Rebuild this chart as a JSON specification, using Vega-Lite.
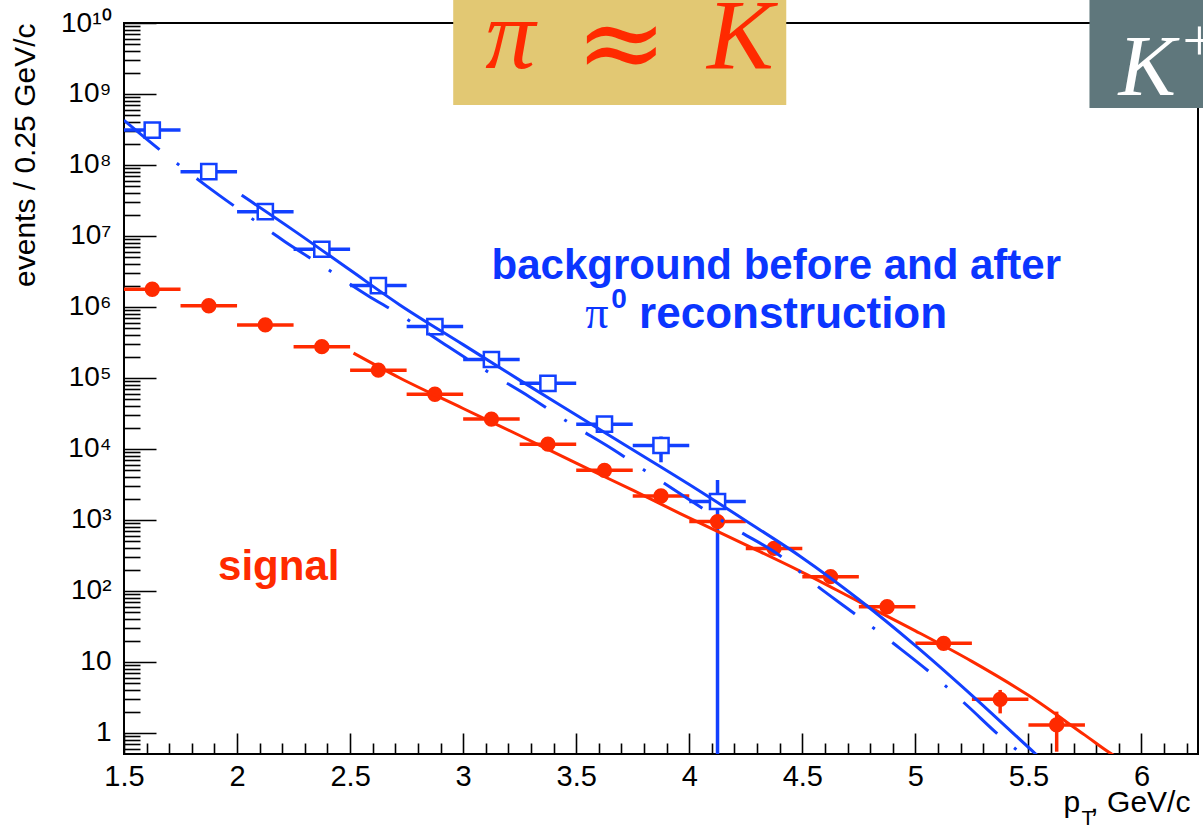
{
  "$schema": "https://vega.github.io/schema/vega-lite/v6.json",
  "width": 1074,
  "height": 731,
  "autosize": {"type": "none"},
  "padding": {"left": 124, "top": 23, "right": 5, "bottom": 77},
  "background": "white",
  "config": {
    "view": {"stroke": "black", "strokeWidth": 2},
    "font": "Liberation Sans"
  },
  "datasets": {
    "points": [
      {"series": "background", "pt": 1.625, "pt_lo": 1.5, "pt_hi": 1.75, "val": 3.1e8, "lo": 3.1e8, "hi": 3.1e8},
      {"series": "background", "pt": 1.875, "pt_lo": 1.75, "pt_hi": 2.0, "val": 8.05e7, "lo": 8.05e7, "hi": 8.05e7},
      {"series": "background", "pt": 2.125, "pt_lo": 2.0, "pt_hi": 2.25, "val": 2.2e7, "lo": 2.2e7, "hi": 2.2e7},
      {"series": "background", "pt": 2.375, "pt_lo": 2.25, "pt_hi": 2.5, "val": 6.5e6, "lo": 6.5e6, "hi": 6.5e6},
      {"series": "background", "pt": 2.625, "pt_lo": 2.5, "pt_hi": 2.75, "val": 2.0e6, "lo": 2.0e6, "hi": 2.0e6},
      {"series": "background", "pt": 2.875, "pt_lo": 2.75, "pt_hi": 3.0, "val": 5.3e5, "lo": 5.3e5, "hi": 5.3e5},
      {"series": "background", "pt": 3.125, "pt_lo": 3.0, "pt_hi": 3.25, "val": 1.82e5, "lo": 1.82e5, "hi": 1.82e5},
      {"series": "background", "pt": 3.375, "pt_lo": 3.25, "pt_hi": 3.5, "val": 8.4e4, "lo": 8.4e4, "hi": 8.4e4},
      {"series": "background", "pt": 3.625, "pt_lo": 3.5, "pt_hi": 3.75, "val": 2.24e4, "lo": 2.0e4, "hi": 2.5e4},
      {"series": "background", "pt": 3.875, "pt_lo": 3.75, "pt_hi": 4.0, "val": 1.12e4, "lo": 6.5e3, "hi": 1.5e4},
      {"series": "background", "pt": 4.125, "pt_lo": 4.0, "pt_hi": 4.25, "val": 1.82e3, "lo": 0.001, "hi": 3.65e3},
      {"series": "signal", "pt": 1.625, "pt_lo": 1.5, "pt_hi": 1.75, "val": 1.78e6, "lo": 1.78e6, "hi": 1.78e6},
      {"series": "signal", "pt": 1.875, "pt_lo": 1.75, "pt_hi": 2.0, "val": 1.04e6, "lo": 1.04e6, "hi": 1.04e6},
      {"series": "signal", "pt": 2.125, "pt_lo": 2.0, "pt_hi": 2.25, "val": 5.6e5, "lo": 5.6e5, "hi": 5.6e5},
      {"series": "signal", "pt": 2.375, "pt_lo": 2.25, "pt_hi": 2.5, "val": 2.76e5, "lo": 2.76e5, "hi": 2.76e5},
      {"series": "signal", "pt": 2.625, "pt_lo": 2.5, "pt_hi": 2.75, "val": 1.29e5, "lo": 1.29e5, "hi": 1.29e5},
      {"series": "signal", "pt": 2.875, "pt_lo": 2.75, "pt_hi": 3.0, "val": 5.9e4, "lo": 5.9e4, "hi": 5.9e4},
      {"series": "signal", "pt": 3.125, "pt_lo": 3.0, "pt_hi": 3.25, "val": 2.64e4, "lo": 2.64e4, "hi": 2.64e4},
      {"series": "signal", "pt": 3.375, "pt_lo": 3.25, "pt_hi": 3.5, "val": 1.17e4, "lo": 1.17e4, "hi": 1.17e4},
      {"series": "signal", "pt": 3.625, "pt_lo": 3.5, "pt_hi": 3.75, "val": 5.0e3, "lo": 5.0e3, "hi": 5.0e3},
      {"series": "signal", "pt": 3.875, "pt_lo": 3.75, "pt_hi": 4.0, "val": 2.18e3, "lo": 2.18e3, "hi": 2.18e3},
      {"series": "signal", "pt": 4.125, "pt_lo": 4.0, "pt_hi": 4.25, "val": 950, "lo": 950, "hi": 950},
      {"series": "signal", "pt": 4.375, "pt_lo": 4.25, "pt_hi": 4.5, "val": 398, "lo": 398, "hi": 398},
      {"series": "signal", "pt": 4.625, "pt_lo": 4.5, "pt_hi": 4.75, "val": 159, "lo": 159, "hi": 159},
      {"series": "signal", "pt": 4.875, "pt_lo": 4.75, "pt_hi": 5.0, "val": 60, "lo": 55, "hi": 66},
      {"series": "signal", "pt": 5.125, "pt_lo": 5.0, "pt_hi": 5.25, "val": 18.3, "lo": 15.5, "hi": 21.5},
      {"series": "signal", "pt": 5.375, "pt_lo": 5.25, "pt_hi": 5.5, "val": 2.98, "lo": 1.89, "hi": 4.04},
      {"series": "signal", "pt": 5.625, "pt_lo": 5.5, "pt_hi": 5.75, "val": 1.3, "lo": 0.545, "hi": 2.0}
    ],
    "curves": [
      {"curve": "signal_fit", "pt": 2.515, "val": 2.24e5},
      {"curve": "signal_fit", "pt": 2.72, "val": 1.0e5},
      {"curve": "signal_fit", "pt": 3.0, "val": 3.72e4},
      {"curve": "signal_fit", "pt": 3.25, "val": 1.55e4},
      {"curve": "signal_fit", "pt": 3.5, "val": 6.31e3},
      {"curve": "signal_fit", "pt": 3.75, "val": 2.63e3},
      {"curve": "signal_fit", "pt": 3.96, "val": 1.23e3},
      {"curve": "signal_fit", "pt": 4.25, "val": 447},
      {"curve": "signal_fit", "pt": 4.49, "val": 191},
      {"curve": "signal_fit", "pt": 4.75, "val": 70.8},
      {"curve": "signal_fit", "pt": 5.0, "val": 27.5},
      {"curve": "signal_fit", "pt": 5.25, "val": 10.2},
      {"curve": "signal_fit", "pt": 5.5, "val": 3.39},
      {"curve": "signal_fit", "pt": 5.75, "val": 0.933},
      {"curve": "signal_fit", "pt": 5.87, "val": 0.501},
      {"curve": "signal_fit", "pt": 5.9, "val": 0.44},
      {"curve": "bg_solid", "pt": 2.02, "val": 3.76e7},
      {"curve": "bg_solid", "pt": 2.25, "val": 1.2e7},
      {"curve": "bg_solid", "pt": 2.5, "val": 3.31e6},
      {"curve": "bg_solid", "pt": 2.72, "val": 1.07e6},
      {"curve": "bg_solid", "pt": 3.0, "val": 2.95e5},
      {"curve": "bg_solid", "pt": 3.25, "val": 9.33e4},
      {"curve": "bg_solid", "pt": 3.5, "val": 3.02e4},
      {"curve": "bg_solid", "pt": 3.75, "val": 9.77e3},
      {"curve": "bg_solid", "pt": 4.0, "val": 3.16e3},
      {"curve": "bg_solid", "pt": 4.25, "val": 977},
      {"curve": "bg_solid", "pt": 4.49, "val": 309},
      {"curve": "bg_solid", "pt": 4.75, "val": 75.9},
      {"curve": "bg_solid", "pt": 5.0, "val": 17.0},
      {"curve": "bg_solid", "pt": 5.25, "val": 3.39},
      {"curve": "bg_solid", "pt": 5.53, "val": 0.513},
      {"curve": "bg_solid", "pt": 5.56, "val": 0.42},
      {"curve": "bg_dashdot", "pt": 1.5, "val": 4.27e8},
      {"curve": "bg_dashdot", "pt": 1.684, "val": 1.41e8},
      {"curve": "bg_dashdot", "pt": 1.863, "val": 5.13e7},
      {"curve": "bg_dashdot", "pt": 2.028, "val": 2.14e7},
      {"curve": "bg_dashdot", "pt": 2.212, "val": 8.32e6},
      {"curve": "bg_dashdot", "pt": 2.382, "val": 3.72e6},
      {"curve": "bg_dashdot", "pt": 2.574, "val": 1.48e6},
      {"curve": "bg_dashdot", "pt": 2.721, "val": 7.76e5},
      {"curve": "bg_dashdot", "pt": 2.935, "val": 2.75e5},
      {"curve": "bg_dashdot", "pt": 3.108, "val": 1.23e5},
      {"curve": "bg_dashdot", "pt": 3.296, "val": 5.37e4},
      {"curve": "bg_dashdot", "pt": 3.473, "val": 2.29e4},
      {"curve": "bg_dashdot", "pt": 3.665, "val": 9.77e3},
      {"curve": "bg_dashdot", "pt": 3.835, "val": 4.27e3},
      {"curve": "bg_dashdot", "pt": 4.211, "val": 724},
      {"curve": "bg_dashdot", "pt": 4.395, "val": 324},
      {"curve": "bg_dashdot", "pt": 4.562, "val": 120},
      {"curve": "bg_dashdot", "pt": 4.727, "val": 49},
      {"curve": "bg_dashdot", "pt": 4.904, "val": 18.2},
      {"curve": "bg_dashdot", "pt": 5.066, "val": 7.08},
      {"curve": "bg_dashdot", "pt": 5.231, "val": 2.4},
      {"curve": "bg_dashdot", "pt": 5.384, "val": 0.851},
      {"curve": "bg_dashdot", "pt": 5.465, "val": 0.525},
      {"curve": "bg_dashdot", "pt": 5.5, "val": 0.43}
    ],
    "boxes": [
      {"box": "ratio", "x1": 2.956, "x2": 4.429, "y1": 7.0e8, "y2": 3e10},
      {"box": "kaon", "x1": 5.77, "x2": 6.4, "y1": 6.35e8, "y2": 3e10}
    ],
    "notes": [
      {"key": "bg1", "txt": "background before and after", "pt": 4.385, "v": 2.48e6},
      {"key": "bg2pi", "txt": "π", "pt": 3.54, "v": 5.06e5},
      {"key": "bg2sup", "txt": "0", "pt": 3.655, "v": 9.68e5},
      {"key": "bg2", "txt": "reconstruction", "pt": 3.778, "v": 5.06e5},
      {"key": "sig", "txt": "signal", "pt": 1.916, "v": 143},
      {"key": "ratio", "txt": "π", "pt": 3.208, "v": 2.32e9},
      {"key": "approx", "txt": "≈", "pt": 3.699, "v": 1.57e9},
      {"key": "ratio", "txt": "K", "pt": 4.226, "v": 2.32e9},
      {"key": "kaonK", "txt": "K", "pt": 5.898, "v": 9.68e8},
      {"key": "kaonPlus", "txt": "+", "pt": 6.181, "v": 3.0e9},
      {"key": "xt", "txt": "p", "pt": 5.655, "v": 0.077},
      {"key": "xtsub", "txt": "T", "pt": 5.735, "v": 0.0506},
      {"key": "xt", "txt": ", GeV/c", "pt": 5.774, "v": 0.077}
    ]
  },
  "resolve": {"axis": {"x": "independent", "y": "independent"}},
  "layer": [
    {
      "data": {"name": "points"},
      "mark": {"type": "rule", "strokeWidth": 3.5, "clip": true},
      "encoding": {
        "x": {"field": "pt_lo", "type": "quantitative", "scale": {"type": "linear", "domain": [1.5, 6.25], "nice": false, "zero": false}, "axis": null},
        "x2": {"field": "pt_hi"},
        "y": {"field": "val", "type": "quantitative", "scale": {"type": "log", "domain": [0.506, 1e10], "nice": false}, "axis": null},
        "color": {"field": "series", "type": "nominal", "scale": {"domain": ["background", "signal"], "range": ["#1240ff", "#ff2a00"]}, "legend": null}
      }
    },
    {
      "data": {"name": "points"},
      "mark": {"type": "rule", "strokeWidth": 3.5, "clip": true},
      "encoding": {
        "x": {"field": "pt", "type": "quantitative", "scale": {"type": "linear", "domain": [1.5, 6.25], "nice": false, "zero": false}, "axis": null},
        "y": {"field": "lo", "type": "quantitative", "scale": {"type": "log", "domain": [0.506, 1e10], "nice": false}, "axis": null},
        "y2": {"field": "hi"},
        "color": {"field": "series", "type": "nominal", "scale": {"domain": ["background", "signal"], "range": ["#1240ff", "#ff2a00"]}, "legend": null}
      }
    },
    {
      "data": {"name": "points"},
      "transform": [{"filter": "datum.series === 'background'"}],
      "mark": {"type": "point", "shape": "square", "size": 230, "filled": false, "fill": "white", "fillOpacity": 1, "stroke": "#1240ff", "strokeWidth": 2.5, "opacity": 1},
      "encoding": {
        "x": {"field": "pt", "type": "quantitative", "scale": {"type": "linear", "domain": [1.5, 6.25], "nice": false, "zero": false}, "axis": null},
        "y": {"field": "val", "type": "quantitative", "scale": {"type": "log", "domain": [0.506, 1e10], "nice": false}, "axis": null}
      }
    },
    {
      "data": {"name": "points"},
      "transform": [{"filter": "datum.series === 'signal'"}],
      "mark": {"type": "circle", "size": 235, "color": "#ff2a00", "opacity": 1},
      "encoding": {
        "x": {"field": "pt", "type": "quantitative", "scale": {"type": "linear", "domain": [1.5, 6.25], "nice": false, "zero": false}, "axis": null},
        "y": {"field": "val", "type": "quantitative", "scale": {"type": "log", "domain": [0.506, 1e10], "nice": false}, "axis": null}
      }
    },
    {
      "data": {"name": "curves"},
      "transform": [{"filter": "datum.curve === 'signal_fit'"}],
      "mark": {"type": "line", "color": "#ff2a00", "strokeWidth": 3, "interpolate": "monotone", "clip": true},
      "encoding": {
        "x": {
          "field": "pt", "type": "quantitative",
          "scale": {"type": "linear", "domain": [1.5, 6.25], "nice": false, "zero": false},
          "axis": {
            "orient": "bottom", "values": [1.5, 2, 2.5, 3, 3.5, 4, 4.5, 5, 5.5, 6], "format": "~g",
            "domain": false, "grid": false, "tickSize": -21, "tickWidth": 1.6, "tickColor": "black",
            "labelFont": "Liberation Sans", "labelFontSize": 29, "labelColor": "black", "labelPadding": 29,
            "labelFlush": false, "labelOverlap": false, "title": null
          }
        },
        "y": {
          "field": "val", "type": "quantitative",
          "scale": {"type": "log", "domain": [0.506, 1e10], "nice": false},
          "axis": {
            "orient": "left", "values": [1, 10, 100, 1000, 10000, 100000, 1000000, 10000000, 100000000, 1000000000, 10000000000],
            "domain": false, "grid": false, "tickSize": -32, "tickWidth": 1.6, "tickColor": "black",
            "labelFont": "Liberation Sans", "labelFontSize": 28, "labelColor": "black", "labelPadding": 45, "labelOverlap": false,
            "labelExpr": "datum.value < 5 ? '1' : datum.value < 50 ? '10' : '10' + (datum.value > 5e9 ? '¹⁰' : substring('⁰¹²³⁴⁵⁶⁷⁸⁹', round(log(datum.value) / LN10), round(log(datum.value) / LN10) + 1))",
            "title": "events / 0.25 GeV/c", "titleFont": "Liberation Sans", "titleFontSize": 30, "titleFontWeight": "normal",
            "titleColor": "black", "titleAnchor": "end", "titlePadding": 20
          }
        }
      }
    },
    {
      "data": {"name": "curves"},
      "transform": [{"filter": "datum.curve === 'bg_solid'"}],
      "mark": {"type": "line", "color": "#1240ff", "strokeWidth": 3, "interpolate": "monotone", "clip": true},
      "encoding": {
        "x": {
          "field": "pt", "type": "quantitative",
          "scale": {"type": "linear", "domain": [1.5, 6.25], "nice": false, "zero": false},
          "axis": {
            "orient": "bottom",
            "values": [1.6, 1.7, 1.8, 1.9, 2.1, 2.2, 2.3, 2.4, 2.6, 2.7, 2.8, 2.9, 3.1, 3.2, 3.3, 3.4, 3.6, 3.7, 3.8, 3.9, 4.1, 4.2, 4.3, 4.4, 4.6, 4.7, 4.8, 4.9, 5.1, 5.2, 5.3, 5.4, 5.6, 5.7, 5.8, 5.9, 6.1, 6.2],
            "domain": false, "grid": false, "labels": false, "tickSize": -11, "tickWidth": 1.6, "tickColor": "black", "title": null
          }
        },
        "y": {
          "field": "val", "type": "quantitative",
          "scale": {"type": "log", "domain": [0.506, 1e10], "nice": false},
          "axis": {
            "orient": "left",
            "values": [0.6, 0.7, 0.8, 0.9, 2, 3, 4, 5, 6, 7, 8, 9, 20, 30, 40, 50, 60, 70, 80, 90, 200, 300, 400, 500, 600, 700, 800, 900, 2000, 3000, 4000, 5000, 6000, 7000, 8000, 9000, 20000, 30000, 40000, 50000, 60000, 70000, 80000, 90000, 200000, 300000, 400000, 500000, 600000, 700000, 800000, 900000, 2000000, 3000000, 4000000, 5000000, 6000000, 7000000, 8000000, 9000000, 20000000, 30000000, 40000000, 50000000, 60000000, 70000000, 80000000, 90000000, 200000000, 300000000, 400000000, 500000000, 600000000, 700000000, 800000000, 900000000, 2000000000, 3000000000, 4000000000, 5000000000, 6000000000, 7000000000, 8000000000, 9000000000],
            "domain": false, "grid": false, "labels": false, "tickSize": -16, "tickWidth": 1.6, "tickColor": "black", "title": null
          }
        }
      }
    },
    {
      "data": {"name": "curves"},
      "transform": [{"filter": "datum.curve === 'bg_dashdot'"}],
      "mark": {"type": "line", "color": "#1240ff", "strokeWidth": 3, "strokeDash": [46, 22, 3, 22], "interpolate": "monotone", "clip": true},
      "encoding": {
        "x": {"field": "pt", "type": "quantitative", "scale": {"type": "linear", "domain": [1.5, 6.25], "nice": false, "zero": false}, "axis": null},
        "y": {"field": "val", "type": "quantitative", "scale": {"type": "log", "domain": [0.506, 1e10], "nice": false}, "axis": null}
      }
    },
    {
      "data": {"name": "boxes"},
      "transform": [{"filter": "datum.box === 'ratio'"}],
      "mark": {"type": "rect", "color": "#e2c873", "opacity": 1},
      "encoding": {
        "x": {"field": "x1", "type": "quantitative", "scale": {"type": "linear", "domain": [1.5, 6.25], "nice": false, "zero": false}, "axis": null},
        "x2": {"field": "x2"},
        "y": {"field": "y1", "type": "quantitative", "scale": {"type": "log", "domain": [0.506, 1e10], "nice": false}, "axis": null},
        "y2": {"field": "y2"}
      }
    },
    {
      "data": {"name": "boxes"},
      "transform": [{"filter": "datum.box === 'kaon'"}],
      "mark": {"type": "rect", "color": "#5f777c", "opacity": 1},
      "encoding": {
        "x": {"field": "x1", "type": "quantitative", "scale": {"type": "linear", "domain": [1.5, 6.25], "nice": false, "zero": false}, "axis": null},
        "x2": {"field": "x2"},
        "y": {"field": "y1", "type": "quantitative", "scale": {"type": "log", "domain": [0.506, 1e10], "nice": false}, "axis": null},
        "y2": {"field": "y2"}
      }
    },
    {
      "data": {"name": "notes"},
      "transform": [{"filter": "datum.key === 'bg1'"}],
      "mark": {"type": "text", "font": "Liberation Sans", "fontWeight": "bold", "fontSize": 42, "color": "#0b35ff", "align": "center", "baseline": "alphabetic"},
      "encoding": {
        "x": {"field": "pt", "type": "quantitative", "scale": {"type": "linear", "domain": [1.5, 6.25], "nice": false, "zero": false}, "axis": null},
        "y": {"field": "v", "type": "quantitative", "scale": {"type": "log", "domain": [0.506, 1e10], "nice": false}, "axis": null},
        "text": {"field": "txt"}
      }
    },
    {
      "data": {"name": "notes"},
      "transform": [{"filter": "datum.key === 'bg2'"}],
      "mark": {"type": "text", "font": "Liberation Sans", "fontWeight": "bold", "fontSize": 44, "color": "#0b35ff", "align": "left", "baseline": "alphabetic"},
      "encoding": {
        "x": {"field": "pt", "type": "quantitative", "scale": {"type": "linear", "domain": [1.5, 6.25], "nice": false, "zero": false}, "axis": null},
        "y": {"field": "v", "type": "quantitative", "scale": {"type": "log", "domain": [0.506, 1e10], "nice": false}, "axis": null},
        "text": {"field": "txt"}
      }
    },
    {
      "data": {"name": "notes"},
      "transform": [{"filter": "datum.key === 'bg2pi'"}],
      "mark": {"type": "text", "font": "Liberation Serif", "fontSize": 46, "color": "#0b35ff", "align": "left", "baseline": "alphabetic"},
      "encoding": {
        "x": {"field": "pt", "type": "quantitative", "scale": {"type": "linear", "domain": [1.5, 6.25], "nice": false, "zero": false}, "axis": null},
        "y": {"field": "v", "type": "quantitative", "scale": {"type": "log", "domain": [0.506, 1e10], "nice": false}, "axis": null},
        "text": {"field": "txt"}
      }
    },
    {
      "data": {"name": "notes"},
      "transform": [{"filter": "datum.key === 'bg2sup'"}],
      "mark": {"type": "text", "font": "Liberation Sans", "fontWeight": "bold", "fontSize": 28, "color": "#0b35ff", "align": "left", "baseline": "alphabetic"},
      "encoding": {
        "x": {"field": "pt", "type": "quantitative", "scale": {"type": "linear", "domain": [1.5, 6.25], "nice": false, "zero": false}, "axis": null},
        "y": {"field": "v", "type": "quantitative", "scale": {"type": "log", "domain": [0.506, 1e10], "nice": false}, "axis": null},
        "text": {"field": "txt"}
      }
    },
    {
      "data": {"name": "notes"},
      "transform": [{"filter": "datum.key === 'sig'"}],
      "mark": {"type": "text", "font": "Liberation Sans", "fontWeight": "bold", "fontSize": 42, "color": "#ff2a00", "align": "left", "baseline": "alphabetic"},
      "encoding": {
        "x": {"field": "pt", "type": "quantitative", "scale": {"type": "linear", "domain": [1.5, 6.25], "nice": false, "zero": false}, "axis": null},
        "y": {"field": "v", "type": "quantitative", "scale": {"type": "log", "domain": [0.506, 1e10], "nice": false}, "axis": null},
        "text": {"field": "txt"}
      }
    },
    {
      "data": {"name": "notes"},
      "transform": [{"filter": "datum.key === 'ratio'"}],
      "mark": {"type": "text", "font": "Liberation Serif", "fontStyle": "italic", "fontSize": 100, "color": "#ff2a00", "align": "center", "baseline": "alphabetic"},
      "encoding": {
        "x": {"field": "pt", "type": "quantitative", "scale": {"type": "linear", "domain": [1.5, 6.25], "nice": false, "zero": false}, "axis": null},
        "y": {"field": "v", "type": "quantitative", "scale": {"type": "log", "domain": [0.506, 1e10], "nice": false}, "axis": null},
        "text": {"field": "txt"}
      }
    },
    {
      "data": {"name": "notes"},
      "transform": [{"filter": "datum.key === 'approx'"}],
      "mark": {"type": "text", "font": "DejaVu Serif", "fontStyle": "italic", "fontSize": 110, "color": "#ff2a00", "align": "center", "baseline": "alphabetic"},
      "encoding": {
        "x": {"field": "pt", "type": "quantitative", "scale": {"type": "linear", "domain": [1.5, 6.25], "nice": false, "zero": false}, "axis": null},
        "y": {"field": "v", "type": "quantitative", "scale": {"type": "log", "domain": [0.506, 1e10], "nice": false}, "axis": null},
        "text": {"field": "txt"}
      }
    },
    {
      "data": {"name": "notes"},
      "transform": [{"filter": "datum.key === 'kaonK'"}],
      "mark": {"type": "text", "font": "Liberation Serif", "fontStyle": "italic", "fontSize": 86, "color": "white", "align": "left", "baseline": "alphabetic"},
      "encoding": {
        "x": {"field": "pt", "type": "quantitative", "scale": {"type": "linear", "domain": [1.5, 6.25], "nice": false, "zero": false}, "axis": null},
        "y": {"field": "v", "type": "quantitative", "scale": {"type": "log", "domain": [0.506, 1e10], "nice": false}, "axis": null},
        "text": {"field": "txt"}
      }
    },
    {
      "data": {"name": "notes"},
      "transform": [{"filter": "datum.key === 'kaonPlus'"}],
      "mark": {"type": "text", "font": "Liberation Serif", "fontSize": 60, "color": "white", "align": "left", "baseline": "alphabetic"},
      "encoding": {
        "x": {"field": "pt", "type": "quantitative", "scale": {"type": "linear", "domain": [1.5, 6.25], "nice": false, "zero": false}, "axis": null},
        "y": {"field": "v", "type": "quantitative", "scale": {"type": "log", "domain": [0.506, 1e10], "nice": false}, "axis": null},
        "text": {"field": "txt"}
      }
    },
    {
      "data": {"name": "notes"},
      "transform": [{"filter": "datum.key === 'xt'"}],
      "mark": {"type": "text", "font": "Liberation Sans", "fontSize": 30, "color": "black", "align": "left", "baseline": "alphabetic"},
      "encoding": {
        "x": {"field": "pt", "type": "quantitative", "scale": {"type": "linear", "domain": [1.5, 6.25], "nice": false, "zero": false}, "axis": null},
        "y": {"field": "v", "type": "quantitative", "scale": {"type": "log", "domain": [0.506, 1e10], "nice": false}, "axis": null},
        "text": {"field": "txt"}
      }
    },
    {
      "data": {"name": "notes"},
      "transform": [{"filter": "datum.key === 'xtsub'"}],
      "mark": {"type": "text", "font": "Liberation Sans", "fontSize": 21, "color": "black", "align": "left", "baseline": "alphabetic"},
      "encoding": {
        "x": {"field": "pt", "type": "quantitative", "scale": {"type": "linear", "domain": [1.5, 6.25], "nice": false, "zero": false}, "axis": null},
        "y": {"field": "v", "type": "quantitative", "scale": {"type": "log", "domain": [0.506, 1e10], "nice": false}, "axis": null},
        "text": {"field": "txt"}
      }
    }
  ]
}
